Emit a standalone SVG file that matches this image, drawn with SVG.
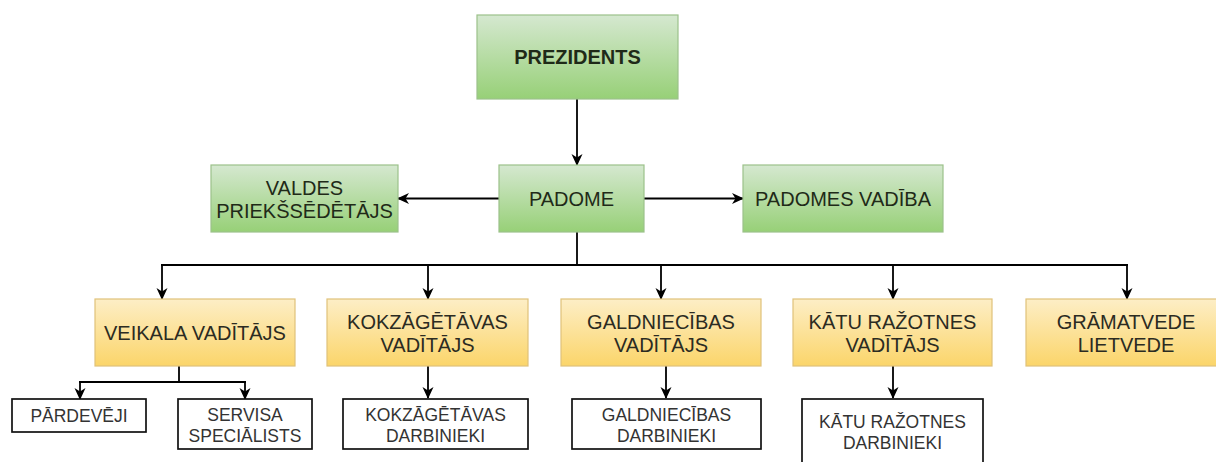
<svg xmlns="http://www.w3.org/2000/svg" width="1216" height="462" viewBox="0 0 1216 462">
  <defs>
    <linearGradient id="gGreen" x1="0" y1="0" x2="0" y2="1">
      <stop offset="0" stop-color="#d5e8d0"/>
      <stop offset="1" stop-color="#97d077"/>
    </linearGradient>
    <linearGradient id="gYellow" x1="0" y1="0" x2="0" y2="1">
      <stop offset="0" stop-color="#fdeec6"/>
      <stop offset="1" stop-color="#fbd56a"/>
    </linearGradient>
    <marker id="arr" viewBox="0 0 12 12" refX="11" refY="6" markerWidth="12" markerHeight="12" markerUnits="userSpaceOnUse" orient="auto">
      <path d="M0,0.5 L12,6 L0,11.5 L3.5,6 Z" fill="#000"/>
    </marker>
  </defs>
  <style>
    .green { fill: url(#gGreen); stroke: #9cc18a; stroke-width: 1.2; }
    .yellow { fill: url(#gYellow); stroke: #e0c27a; stroke-width: 1.2; }
    .plain { fill: #fff; stroke: #111; stroke-width: 1.7; }
    .t { font-family: "Liberation Sans", Arial, sans-serif; font-size: 20px; text-anchor: middle; fill: #2b2b22; }
    .tg { fill: #1f2a18; }
    .ts { font-family: "Liberation Sans", Arial, sans-serif; font-size: 17.5px; text-anchor: middle; fill: #333; }
    .b { font-weight: bold; }
    .c { fill: none; stroke: #000; stroke-width: 1.8; }
    .ca { fill: none; stroke: #000; stroke-width: 1.8; marker-end: url(#arr); }
  </style>
  <rect width="1216" height="462" fill="#fff"/>

  <g id="connectors">
    <line class="ca" x1="577" y1="99" x2="577" y2="165"/>
    <line class="ca" x1="499" y1="198.5" x2="398" y2="198.5"/>
    <line class="ca" x1="644" y1="198.5" x2="743" y2="198.5"/>
    <line class="c" x1="577" y1="232" x2="577" y2="265"/>
    <line class="c" x1="161" y1="265" x2="1128" y2="265"/>
    <line class="ca" x1="162" y1="264.1" x2="162" y2="299"/>
    <line class="ca" x1="428" y1="265" x2="428" y2="299"/>
    <line class="ca" x1="661" y1="265" x2="661" y2="299"/>
    <line class="ca" x1="893" y1="265" x2="893" y2="299"/>
    <line class="ca" x1="1127" y1="264.1" x2="1127" y2="299"/>
    <line class="c" x1="179" y1="366" x2="179" y2="382"/>
    <line class="c" x1="79" y1="382" x2="246" y2="382"/>
    <line class="ca" x1="80" y1="381.1" x2="80" y2="399"/>
    <line class="ca" x1="245" y1="381.1" x2="245" y2="399"/>
    <line class="ca" x1="428" y1="366" x2="428" y2="398"/>
    <line class="ca" x1="666" y1="366" x2="666" y2="398"/>
    <line class="ca" x1="893" y1="366" x2="893" y2="398"/>
  </g>

  <g id="prezidents">
    <rect class="green" x="477" y="15" width="201" height="84"/>
    <text class="t tg b" x="577.5" y="64">PREZIDENTS</text>
  </g>
  <g id="valdes">
    <rect class="green" x="211" y="165" width="187" height="67"/>
    <text class="t tg" x="304.5" y="195">VALDES</text>
    <text class="t tg" x="304.5" y="218">PRIEKŠSĒDĒTĀJS</text>
  </g>
  <g id="padome">
    <rect class="green" x="499" y="165" width="145" height="67"/>
    <text class="t tg" x="571.5" y="206">PADOME</text>
  </g>
  <g id="padomes-vadiba">
    <rect class="green" x="743" y="165" width="200" height="67"/>
    <text class="t tg" x="843" y="206">PADOMES VADĪBA</text>
  </g>

  <g id="veikala">
    <rect class="yellow" x="95" y="299" width="200" height="67"/>
    <text class="t" x="195" y="340">VEIKALA VADĪTĀJS</text>
  </g>
  <g id="kokzagetavas">
    <rect class="yellow" x="327" y="299" width="201" height="67"/>
    <text class="t" x="427.5" y="329">KOKZĀGĒTĀVAS</text>
    <text class="t" x="427.5" y="352">VADĪTĀJS</text>
  </g>
  <g id="galdniecibas">
    <rect class="yellow" x="561" y="299" width="200" height="67"/>
    <text class="t" x="661" y="329">GALDNIECĪBAS</text>
    <text class="t" x="661" y="352">VADĪTĀJS</text>
  </g>
  <g id="katu">
    <rect class="yellow" x="793" y="299" width="199" height="67"/>
    <text class="t" x="892.5" y="329">KĀTU RAŽOTNES</text>
    <text class="t" x="892.5" y="352">VADĪTĀJS</text>
  </g>
  <g id="gramatvede">
    <rect class="yellow" x="1026" y="299" width="200" height="67"/>
    <text class="t" x="1126" y="329">GRĀMATVEDE</text>
    <text class="t" x="1126" y="352">LIETVEDE</text>
  </g>

  <g id="pardeveji">
    <rect class="plain" x="12" y="399" width="134" height="33"/>
    <text class="ts" x="79" y="422">PĀRDEVĒJI</text>
  </g>
  <g id="servisa">
    <rect class="plain" x="178" y="399" width="134" height="50"/>
    <text class="ts" x="245" y="421">SERVISA</text>
    <text class="ts" x="245" y="442">SPECIĀLISTS</text>
  </g>
  <g id="kokz-darbinieki">
    <rect class="plain" x="343" y="399" width="185" height="50"/>
    <text class="ts" x="435.5" y="421">KOKZĀGĒTĀVAS</text>
    <text class="ts" x="435.5" y="442">DARBINIEKI</text>
  </g>
  <g id="galdn-darbinieki">
    <rect class="plain" x="572" y="399" width="189" height="50"/>
    <text class="ts" x="666.5" y="421">GALDNIECĪBAS</text>
    <text class="ts" x="666.5" y="442">DARBINIEKI</text>
  </g>
  <g id="katu-darbinieki">
    <rect class="plain" x="802" y="399" width="181" height="72"/>
    <text class="ts" x="892.5" y="428">KĀTU RAŽOTNES</text>
    <text class="ts" x="892.5" y="449">DARBINIEKI</text>
  </g>
</svg>
